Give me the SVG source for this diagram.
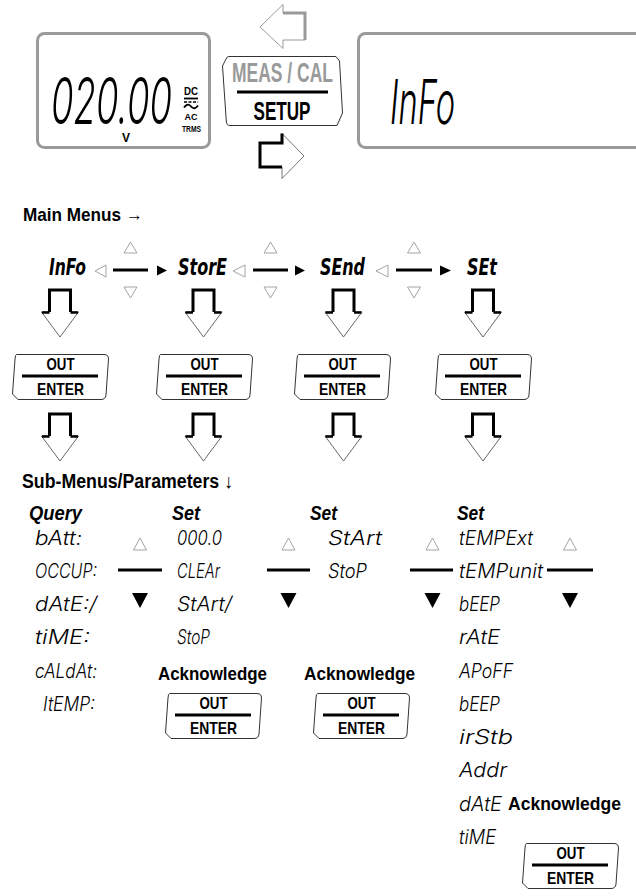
<svg xmlns="http://www.w3.org/2000/svg" width="636" height="896" viewBox="0 0 636 896">
<style>
.lcd{fill:none;stroke:#9a9a9a;stroke-width:3}
.seg{font-family:Inter,"DejaVu Sans",sans-serif;font-style:italic;font-weight:300;fill:#000}
.segb{font-family:"DejaVu Sans",sans-serif;font-style:oblique;font-weight:bold;fill:#000}
.lbl{font-family:"Liberation Sans",Arial,sans-serif;font-weight:bold;fill:#000}
.lbli{font-family:"Liberation Sans",Arial,sans-serif;font-weight:bold;font-style:italic;fill:#000}
.btn{fill:#fff;stroke:#333;stroke-width:1}
.tri{fill:#fff;stroke:#9a9a9a;stroke-width:0.9}
.trib{fill:#000;stroke:none}
.bar{stroke:#000;stroke-width:3}
.dthin{fill:#fff;stroke:#555;stroke-width:0.9}
.dthick{fill:none;stroke:#000;stroke-width:3}
</style>
<defs>
<g id="btnOE">
<path class="btn" d="M4.5,0.5 H92 Q96.5,0.5 96.5,5 L94,41 Q93.5,45.5 89,45.5 H6 L0.5,40 L3,5 Q3.3,0.5 4.5,0.5 Z"/>
<text class="lbl" x="48.5" y="16" font-size="17" text-anchor="middle" textLength="28" lengthAdjust="spacingAndGlyphs">OUT</text>
<line x1="10" y1="22" x2="86" y2="22" stroke="#000" stroke-width="3"/>
<text class="lbl" x="48.5" y="41" font-size="17" text-anchor="middle" textLength="47" lengthAdjust="spacingAndGlyphs">ENTER</text>
</g>
<g id="drop">
<path class="dthin" d="M-10.5,22 V0 H10.5 V22 H18.5 L0,47 L-18.5,22 Z"/>
<path class="dthick" d="M-10.5,22 V0 H10.5 V22"/>
<path fill="none" stroke="#000" stroke-width="2.5" d="M-18,22.5 H-10.5 M10.5,22.5 H18"/>
</g>
</defs>

<g id="lcd-left">
<rect class="lcd" x="37.5" y="33.5" width="172" height="114" rx="7"/>
<text class="seg" transform="translate(51,124) scale(1,1.75)" font-size="37" textLength="121" lengthAdjust="spacingAndGlyphs">020.00</text>
<text class="lbl" x="126" y="142" font-size="12" text-anchor="middle">V</text>
<text class="lbl" x="191" y="95" font-size="10" text-anchor="middle" textLength="14" lengthAdjust="spacingAndGlyphs">DC</text>
<line x1="184" y1="98.5" x2="198" y2="98.5" stroke="#000" stroke-width="1.8"/>
<line x1="184" y1="102" x2="198" y2="102" stroke="#000" stroke-width="1.5" stroke-dasharray="3 1.5"/>
<path d="M184,107.5 Q187.5,102.5 191,106.5 T198,105.5" fill="none" stroke="#000" stroke-width="1.8"/>
<text class="lbl" x="191" y="119.5" font-size="9" text-anchor="middle" textLength="13" lengthAdjust="spacingAndGlyphs">AC</text>
<text class="lbl" x="191.5" y="131.5" font-size="9" text-anchor="middle" textLength="19" lengthAdjust="spacingAndGlyphs">TRMS</text>
</g>

<g id="btn-meas">
<path class="btn" d="M229,56.5 H336 L339.5,61 L342.5,113 L337,125.5 H230 Q226.5,125.5 226.3,121 L222.5,66 L226,59 Q227,56.5 229,56.5 Z"/>
<text class="lbl" x="282.5" y="82" font-size="27" text-anchor="middle" style="fill:#9a9a9a" textLength="101" lengthAdjust="spacingAndGlyphs">MEAS / CAL</text>
<line x1="237" y1="92" x2="328" y2="92" stroke="#000" stroke-width="3"/>
<text class="lbl" x="282" y="120" font-size="26" text-anchor="middle" textLength="57" lengthAdjust="spacingAndGlyphs">SETUP</text>
</g>

<g id="lcd-right">
<rect class="lcd" x="358.5" y="33.5" width="300" height="114" rx="7"/>
<text class="seg" transform="translate(390,124) scale(1,1.8)" font-size="34" textLength="65" lengthAdjust="spacingAndGlyphs">InFo</text>
</g>

<g id="heading-main">
<text class="lbl" x="23" y="221" font-size="19" textLength="120" lengthAdjust="spacingAndGlyphs">Main Menus →</text>
</g>

<g id="menu-info"><text class="segb" x="49" y="275" font-size="23" textLength="37" lengthAdjust="spacingAndGlyphs">InFo</text></g>
<g id="menu-store"><text class="segb" x="178" y="275" font-size="23" textLength="49" lengthAdjust="spacingAndGlyphs">StorE</text></g>
<g id="menu-send"><text class="segb" x="320" y="275" font-size="23" textLength="45" lengthAdjust="spacingAndGlyphs">SEnd</text></g>
<g id="menu-set"><text class="segb" x="467" y="275" font-size="23" textLength="30" lengthAdjust="spacingAndGlyphs">SEt</text></g>

<g id="btn-info"><use href="#btnOE" x="12" y="354"/></g>
<g id="btn-store"><use href="#btnOE" x="156" y="354"/></g>
<g id="btn-send"><use href="#btnOE" x="294" y="354"/></g>
<g id="btn-set"><use href="#btnOE" x="435" y="354"/></g>

<g id="heading-sub">
<text class="lbl" x="22" y="488" font-size="20" textLength="211" lengthAdjust="spacingAndGlyphs">Sub-Menus/Parameters ↓</text>
</g>

<g id="col-query">
<text class="lbli" x="29" y="520" font-size="20" textLength="53" lengthAdjust="spacingAndGlyphs">Query</text>
<text class="seg" x="35" y="544.5" font-size="20" textLength="47" lengthAdjust="spacingAndGlyphs">bAtt:</text>
<text class="seg" x="35" y="577.5" font-size="20" textLength="62" lengthAdjust="spacingAndGlyphs">OCCUP:</text>
<text class="seg" x="35" y="610.5" font-size="20" textLength="62" lengthAdjust="spacingAndGlyphs">dAtE:/</text>
<text class="seg" x="35" y="643.5" font-size="20" textLength="55" lengthAdjust="spacingAndGlyphs">tiME:</text>
<text class="seg" x="35" y="677.5" font-size="20" textLength="62" lengthAdjust="spacingAndGlyphs">cALdAt:</text>
<text class="seg" x="43" y="710.5" font-size="20" textLength="52" lengthAdjust="spacingAndGlyphs">ItEMP:</text>
</g>

<g id="col-store">
<text class="lbli" x="172" y="520" font-size="20" textLength="28" lengthAdjust="spacingAndGlyphs">Set</text>
<text class="seg" x="177" y="544.5" font-size="20" textLength="45" lengthAdjust="spacingAndGlyphs">000.0</text>
<text class="seg" x="177" y="577.5" font-size="20" textLength="43" lengthAdjust="spacingAndGlyphs">CLEAr</text>
<text class="seg" x="177" y="610.5" font-size="20" textLength="55" lengthAdjust="spacingAndGlyphs">StArt/</text>
<text class="seg" x="177" y="643.5" font-size="20" textLength="33" lengthAdjust="spacingAndGlyphs">StoP</text>
<text class="lbl" x="158" y="680" font-size="18" textLength="109" lengthAdjust="spacingAndGlyphs">Acknowledge</text>
<use href="#btnOE" x="165" y="693"/>
</g>

<g id="col-send">
<text class="lbli" x="310" y="520" font-size="20" textLength="27" lengthAdjust="spacingAndGlyphs">Set</text>
<text class="seg" x="328" y="544.5" font-size="20" textLength="54" lengthAdjust="spacingAndGlyphs">StArt</text>
<text class="seg" x="328" y="577.5" font-size="20" textLength="39" lengthAdjust="spacingAndGlyphs">StoP</text>
<text class="lbl" x="304" y="680" font-size="18" textLength="111" lengthAdjust="spacingAndGlyphs">Acknowledge</text>
<use href="#btnOE" x="313" y="693"/>
</g>

<g id="col-set">
<text class="lbli" x="457" y="520" font-size="20" textLength="27" lengthAdjust="spacingAndGlyphs">Set</text>
<text class="seg" x="459" y="544.5" font-size="20" textLength="74" lengthAdjust="spacingAndGlyphs">tEMPExt</text>
<text class="seg" x="459" y="577.5" font-size="20" textLength="84" lengthAdjust="spacingAndGlyphs">tEMPunit</text>
<text class="seg" x="459" y="610.5" font-size="20" textLength="41" lengthAdjust="spacingAndGlyphs">bEEP</text>
<text class="seg" x="459" y="643.5" font-size="20" textLength="41" lengthAdjust="spacingAndGlyphs">rAtE</text>
<text class="seg" x="459" y="677.5" font-size="20" textLength="54" lengthAdjust="spacingAndGlyphs">APoFF</text>
<text class="seg" x="459" y="710.5" font-size="20" textLength="41" lengthAdjust="spacingAndGlyphs">bEEP</text>
<text class="seg" x="459" y="743.5" font-size="20" textLength="54" lengthAdjust="spacingAndGlyphs">irStb</text>
<text class="seg" x="459" y="776.5" font-size="20" textLength="48" lengthAdjust="spacingAndGlyphs">Addr</text>
<text class="seg" x="459" y="810.5" font-size="20" textLength="43" lengthAdjust="spacingAndGlyphs">dAtE</text>
<text class="seg" x="459" y="843.5" font-size="20" textLength="37" lengthAdjust="spacingAndGlyphs">tiME</text>
<text class="lbl" x="508" y="810" font-size="18" textLength="113" lengthAdjust="spacingAndGlyphs">Acknowledge</text>
<use href="#btnOE" x="522" y="843"/>
</g>

<g id="connectors">
<path d="M260,27 L283,4.5 V13 H305 V40 H283 V48.5 Z" fill="#fff" stroke="#9a9a9a" stroke-width="1"/>
<path d="M283,13 H305 V40" fill="none" stroke="#9a9a9a" stroke-width="3"/>
<path d="M304,156 L282,133.5 V143 H260 V167 H282 V178.5 Z" fill="#fff" stroke="#666" stroke-width="0.9"/>
<path d="M282,133.5 V143 H260 V167 H282" fill="none" stroke="#000" stroke-width="3"/>

<polygon class="tri" points="106,265 106,277 95,271"/>
<polygon class="tri" points="124,253 137,253 130.5,242"/>
<polygon class="tri" points="124,287 137,287 130.5,298"/>
<line class="bar" x1="113" y1="270" x2="148" y2="270"/>
<polygon class="trib" points="157,265.5 157,275.5 167,270.5"/>

<polygon class="tri" points="245,265 245,277 233,271"/>
<polygon class="tri" points="264,253 277,253 270.5,242"/>
<polygon class="tri" points="264,287 277,287 270.5,298"/>
<line class="bar" x1="253" y1="270" x2="288" y2="270"/>
<polygon class="trib" points="295,265.5 295,275.5 305,270.5"/>

<polygon class="tri" points="388,265 388,277 376,271"/>
<polygon class="tri" points="407.5,253 420.5,253 414,242"/>
<polygon class="tri" points="407.5,287 420.5,287 414,298"/>
<line class="bar" x1="396" y1="270" x2="432" y2="270"/>
<polygon class="trib" points="440,265.5 440,275.5 451,270.5"/>

<use href="#drop" x="60" y="290"/>
<use href="#drop" x="203.5" y="290"/>
<use href="#drop" x="343.5" y="290"/>
<use href="#drop" x="483" y="290"/>
<use href="#drop" x="60" y="414"/>
<use href="#drop" x="203.5" y="414"/>
<use href="#drop" x="343.5" y="414"/>
<use href="#drop" x="483" y="414"/>

<polygon class="tri" points="133.5,550 146.5,550 140,538"/>
<line class="bar" x1="118" y1="570" x2="162" y2="570"/>
<polygon class="trib" points="132,593 148,593 140,608"/>

<polygon class="tri" points="282,550 295,550 288.5,538"/>
<line class="bar" x1="267" y1="570" x2="310" y2="570"/>
<polygon class="trib" points="280.5,593 296.5,593 288.5,608"/>

<polygon class="tri" points="426,550 439,550 432.5,538"/>
<line class="bar" x1="410" y1="570" x2="453" y2="570"/>
<polygon class="trib" points="424.5,593 440.5,593 432.5,608"/>

<polygon class="tri" points="563.5,550 576.5,550 570,538"/>
<line class="bar" x1="547" y1="570" x2="593" y2="570"/>
<polygon class="trib" points="562,593 578,593 570,608"/>
</g>
</svg>
